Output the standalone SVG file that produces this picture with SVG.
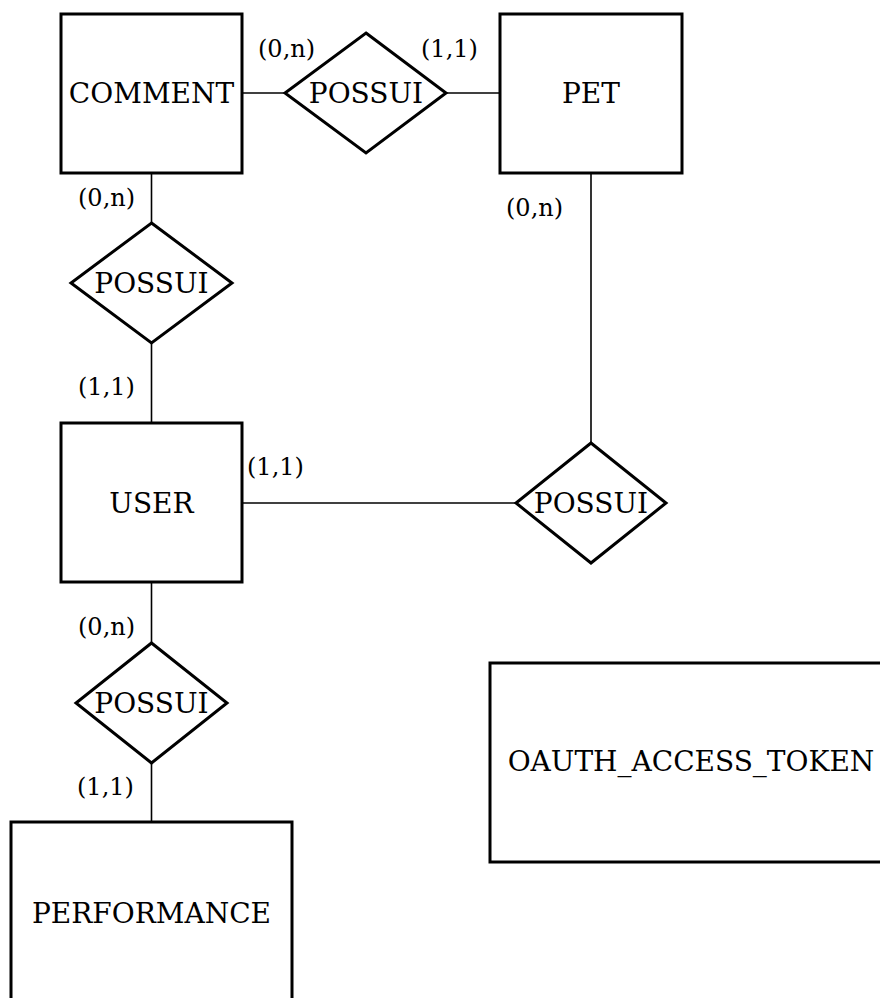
<svg xmlns="http://www.w3.org/2000/svg" width="880" height="998" viewBox="0 0 880 998">
  <style>
    .entity { fill: #fff; stroke: #000; stroke-width: 3; }
    .rel { fill: #fff; stroke: #000; stroke-width: 3; stroke-linejoin: miter; }
    .link { stroke: #000; stroke-width: 1.6; fill: none; }
    .name { font-family: "DejaVu Serif", "Liberation Serif", serif; font-size: 28px; fill: #000; text-anchor: middle; }
    .card { font-family: "DejaVu Serif", "Liberation Serif", serif; font-size: 24px; fill: #000; }
  </style>
  <rect x="0" y="0" width="880" height="998" fill="#fff"/>

  <!-- connectors -->
  <g id="connectors">
    <line class="link" x1="242" y1="93" x2="285" y2="93"/>
    <line class="link" x1="446" y1="93" x2="500" y2="93"/>
    <line class="link" x1="151.5" y1="173" x2="151.5" y2="223"/>
    <line class="link" x1="151.5" y1="343" x2="151.5" y2="423"/>
    <line class="link" x1="591" y1="173" x2="591" y2="443"/>
    <line class="link" x1="242" y1="503" x2="516" y2="503"/>
    <line class="link" x1="151.5" y1="582" x2="151.5" y2="643"/>
    <line class="link" x1="151.5" y1="763" x2="151.5" y2="822"/>
  </g>

  <!-- cardinalities -->
  <g id="cardinalities">
    <text class="card" x="258" y="57">(0,n)</text>
    <text class="card" x="421" y="57">(1,1)</text>
    <text class="card" x="78" y="206">(0,n)</text>
    <text class="card" x="506" y="216">(0,n)</text>
    <text class="card" x="78" y="395">(1,1)</text>
    <text class="card" x="247" y="475">(1,1)</text>
    <text class="card" x="78" y="635">(0,n)</text>
    <text class="card" x="77" y="795">(1,1)</text>
  </g>

  <!-- entities -->
  <g id="comment">
    <rect class="entity" x="61" y="14" width="181" height="159"/>
    <text class="name" x="151.5" y="103">COMMENT</text>
  </g>
  <g id="pet">
    <rect class="entity" x="500" y="14" width="182" height="159"/>
    <text class="name" x="591" y="103">PET</text>
  </g>
  <g id="user">
    <rect class="entity" x="61" y="423" width="181" height="159"/>
    <text class="name" x="151.5" y="513">USER</text>
  </g>
  <g id="performance">
    <rect class="entity" x="11" y="822" width="281" height="200"/>
    <text class="name" x="151.5" y="923">PERFORMANCE</text>
  </g>
  <g id="oauth_access_token">
    <rect class="entity" x="490" y="663" width="402" height="199"/>
    <text class="name" x="691" y="771">OAUTH_ACCESS_TOKEN</text>
  </g>

  <!-- relationships -->
  <g id="possui_comment_pet">
    <polygon class="rel" points="366,33 446,93 366,153 285,93"/>
    <text class="name" x="366" y="103">POSSUI</text>
  </g>
  <g id="possui_comment_user">
    <polygon class="rel" points="151.5,223 232,283 151.5,343 71,283"/>
    <text class="name" x="151.5" y="293">POSSUI</text>
  </g>
  <g id="possui_user_pet">
    <polygon class="rel" points="591,443 666,503 591,563 516,503"/>
    <text class="name" x="591" y="513">POSSUI</text>
  </g>
  <g id="possui_user_performance">
    <polygon class="rel" points="151.5,643 227,703 151.5,763 76,703"/>
    <text class="name" x="151.5" y="713">POSSUI</text>
  </g>
</svg>
